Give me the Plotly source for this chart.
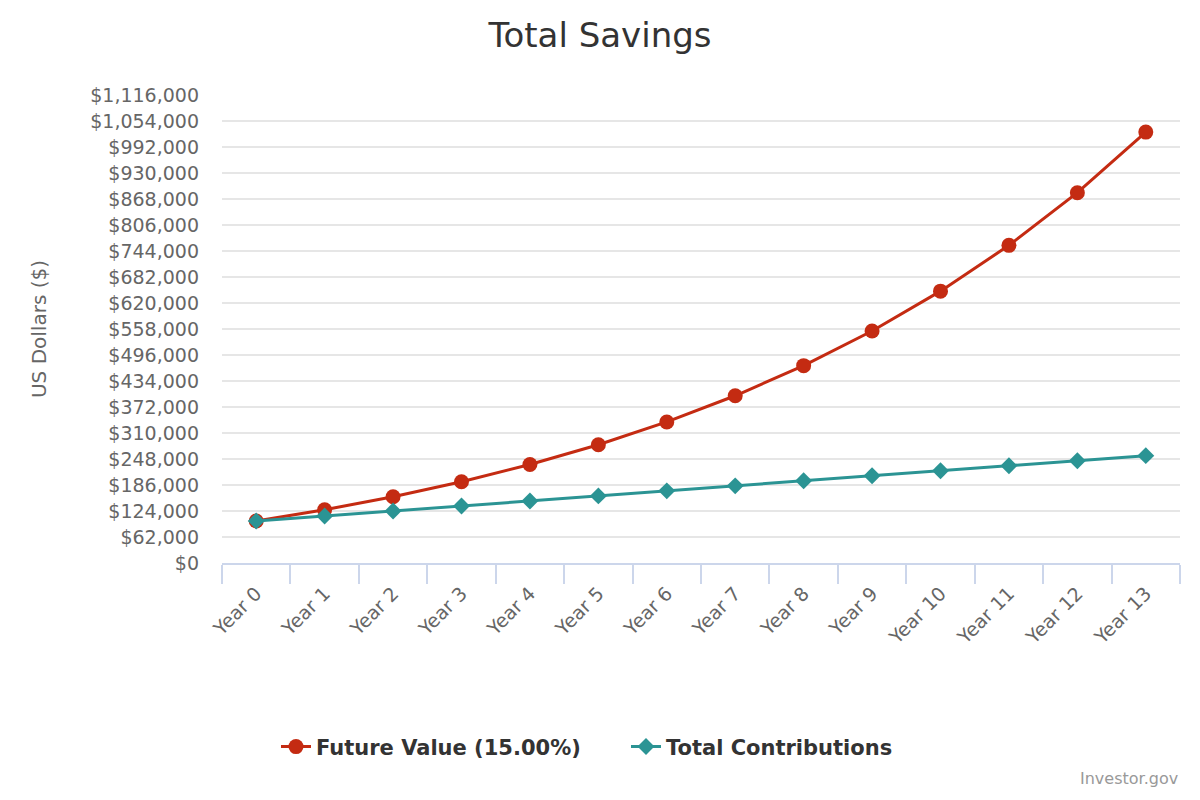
import plotly.graph_objects as go

# data
years = ["Year %d" % i for i in range(14)]
future_value = [100000, 127000, 158050, 193758, 234821, 282044, 336351,
                398804, 470624, 553218, 648200, 757430, 883045, 1027502]
contributions = [100000, 112000, 124000, 136000, 148000, 160000, 172000,
                 184000, 196000, 208000, 220000, 232000, 244000, 256000]
y_ticks = list(range(0, 1116001, 62000))
y_labels = ["${:,}".format(v) for v in y_ticks]

red = "#c42b12"
teal = "#2b9494"
font = "DejaVu Sans"

fig = go.Figure()
fig.add_trace(go.Scatter(
    x=years, y=future_value, name="Future Value (15.00%)",
    mode="lines+markers",
    line=dict(color=red, width=3),
    marker=dict(symbol="circle", size=15, color=red)))
fig.add_trace(go.Scatter(
    x=years, y=contributions, name="Total Contributions",
    mode="lines+markers",
    line=dict(color=teal, width=3),
    marker=dict(symbol="diamond", size=13, color=teal)))

# page body has an 8px margin, so the figure is 16px smaller than the window
fig.update_layout(
    width=1184, height=784,
    paper_bgcolor="white", plot_bgcolor="white",
    font=dict(family=font, color="#666666"),
    margin=dict(l=214, r=12, t=87, b=229, autoexpand=False),
    title=dict(text="Total Savings", x=0.5, xanchor="center",
               y=0.9656, yanchor="middle",
               font=dict(size=34, color="#333333", family=font)),
    legend=dict(orientation="h", x=0.4217, xanchor="center",
                y=-0.393, yanchor="middle",
                font=dict(size=21, color="#333333", family=font, weight="bold"),
                entrywidth=305, entrywidthmode="pixels"),
    showlegend=True,
)
fig.update_xaxes(
    type="category", tickangle=-45,
    tickfont=dict(size=19, color="#666666"),
    showgrid=False, showline=True, linecolor="#ccd6eb", linewidth=2,
    ticks="outside", tickson="boundaries", ticklen=19, tickcolor="#ccd6eb",
    tickwidth=2, range=[-0.5, 13.5], ticklabelstandoff=10)
fig.update_yaxes(
    range=[0, 1116000], tickvals=y_ticks, ticktext=y_labels,
    tickfont=dict(size=19, color="#666666"),
    showgrid=True, gridcolor="#e6e6e6", gridwidth=1.5,
    zeroline=False, ticks="", ticklabelstandoff=22,
    title=dict(text="US Dollars ($)", standoff=38,
               font=dict(size=20, color="#666666")))

fig.add_annotation(text="Investor.gov", xref="paper", yref="paper",
                   x=1.0, y=-0.461, xanchor="right", yanchor="middle",
                   showarrow=False, font=dict(size=16, color="#999999"))

fig.write_html("out.html")
